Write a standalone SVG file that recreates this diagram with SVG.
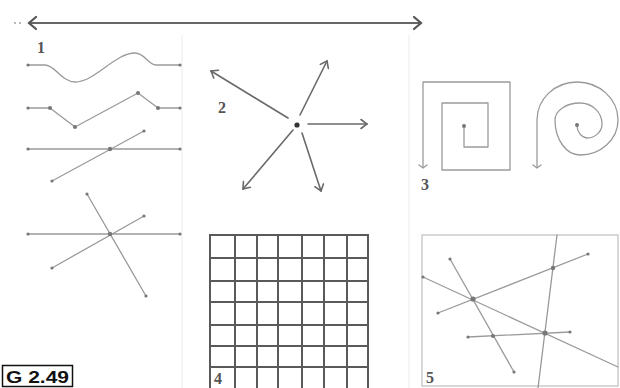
<svg xmlns="http://www.w3.org/2000/svg" width="620" height="388" viewBox="0 0 620 388">
<defs>
<style>
.ln{fill:none;stroke:#9a9a9a;stroke-width:1.3;stroke-linecap:round;stroke-linejoin:round}
.dk{fill:none;stroke:#6a6a6a;stroke-width:1.6;stroke-linecap:round}
.grid{fill:none;stroke:#5a5a5a;stroke-width:2}
.sep{fill:none;stroke:#f2f2f2;stroke-width:1.5}
.dot{fill:#777}
.num{font-family:"Liberation Serif","DejaVu Serif",serif;font-weight:bold;fill:#555;font-size:16px}
</style>
<marker id="ah" viewBox="-8 -6 10 12" markerWidth="10" markerHeight="12" refX="0" refY="0" orient="auto" markerUnits="userSpaceOnUse">
<path d="M-6,-4.5 L0,0 L-6,4.5" fill="none" stroke="#6a6a6a" stroke-width="1.6" stroke-linecap="round"/>
</marker>
<marker id="ahTop" viewBox="-10 -8 12 16" markerWidth="12" markerHeight="16" refX="0" refY="0" orient="auto-start-reverse" markerUnits="userSpaceOnUse">
<path d="M-7,-6 L0,0 L-7,6" fill="none" stroke="#555" stroke-width="2.2" stroke-linecap="round"/>
</marker>
</defs>
<rect width="620" height="388" fill="#fff"/>

<g id="separators">
<line class="sep" x1="182" y1="35" x2="182" y2="388"/>
<line class="sep" x1="409" y1="35" x2="409" y2="388"/>
</g>

<g id="top-arrow">
<circle cx="15" cy="23" r="0.9" fill="#999"/>
<circle cx="20" cy="23" r="0.9" fill="#999"/>
<line x1="29" y1="23" x2="421" y2="23" stroke="#666" stroke-width="2" marker-start="url(#ahTop)" marker-end="url(#ahTop)"/>
</g>

<g id="panel1">
<text class="num" x="37" y="53">1</text>
<path class="ln" d="M28,65 L45,65 C55,65 62,82 75,82 C95,82 115,53 135,53 C145,53 148,65 156,65 L180,65"/>
<path class="ln" d="M28,108 L50,108 L75,127 L138,93 L158,108 L180,108"/>
<line class="ln" x1="28" y1="149" x2="180" y2="149"/>
<line class="ln" x1="52" y1="181" x2="144" y2="131"/>
<line class="ln" x1="28" y1="234" x2="180" y2="234"/>
<line class="ln" x1="87" y1="194" x2="146" y2="296"/>
<line class="ln" x1="52" y1="268" x2="144" y2="216"/>
<g class="dot">
<circle cx="28" cy="65" r="1.6"/><circle cx="180" cy="65" r="1.6"/>
<circle cx="28" cy="108" r="1.6"/><circle cx="50" cy="108" r="2"/><circle cx="75" cy="127" r="2"/><circle cx="138" cy="93" r="2"/><circle cx="158" cy="108" r="2"/><circle cx="180" cy="108" r="1.6"/>
<circle cx="28" cy="149" r="1.6"/><circle cx="180" cy="149" r="1.6"/><circle cx="110" cy="149" r="2.2"/>
<circle cx="52" cy="181" r="1.6"/><circle cx="144" cy="131" r="1.6"/>
<circle cx="28" cy="234" r="1.6"/><circle cx="180" cy="234" r="1.6"/><circle cx="110" cy="234" r="2.2"/>
<circle cx="87" cy="194" r="1.6"/><circle cx="146" cy="296" r="1.6"/>
<circle cx="52" cy="268" r="1.6"/><circle cx="144" cy="216" r="1.6"/>
</g>
</g>

<g id="panel2">
<text class="num" x="218" y="113">2</text>
<circle cx="297" cy="125" r="2.6" fill="#333"/>
<g class="dk">
<line x1="288" y1="118" x2="211" y2="71" marker-end="url(#ah)"/>
<line x1="300" y1="115" x2="327" y2="61" marker-end="url(#ah)"/>
<line x1="308" y1="124" x2="367" y2="124" marker-end="url(#ah)"/>
<line x1="293" y1="130" x2="243" y2="189" marker-end="url(#ah)"/>
<line x1="302" y1="133" x2="321" y2="191" marker-end="url(#ah)"/>
</g>
</g>

<g id="panel3">
<text class="num" x="421" y="190">3</text>
<path class="ln" d="M423,167 L423,82 L510,82 L510,170 L442,170 L442,103 L488,103 L488,147 L464,147 L464,126"/>
<path class="ln" d="M419,165 L423,168 L427,165"/>
<circle cx="464" cy="126" r="2" fill="#777"/>
<path class="ln" d="M537,167 L537,120 A40,38 0 0 1 577,82 A41,38 0 0 1 618,120 A38,35 0 0 1 580,155 A25,35 0 0 1 555,120 A25,17 0 0 1 580,103 A22,21 0 0 1 602,124 A15,14 0 0 1 587,138 A11,13 0 0 1 577,125"/>
<path class="ln" d="M533,165 L537,168 L541,165"/>
<circle cx="577" cy="125" r="2" fill="#777"/>
</g>

<g id="panel4">
<g class="grid">
<line x1="210" y1="235" x2="210" y2="388"/>
<line x1="235" y1="235" x2="235" y2="388"/>
<line x1="257" y1="235" x2="257" y2="388"/>
<line x1="278" y1="235" x2="278" y2="388"/>
<line x1="302" y1="235" x2="302" y2="388"/>
<line x1="324" y1="235" x2="324" y2="388"/>
<line x1="347" y1="235" x2="347" y2="388"/>
<line x1="368" y1="235" x2="368" y2="388"/>
<line x1="209" y1="235" x2="369" y2="235"/>
<line x1="209" y1="258" x2="369" y2="258"/>
<line x1="209" y1="281" x2="369" y2="281"/>
<line x1="209" y1="302" x2="369" y2="302"/>
<line x1="209" y1="325" x2="369" y2="325"/>
<line x1="209" y1="346" x2="369" y2="346"/>
<line x1="209" y1="367" x2="369" y2="367"/>
</g>
<text class="num" x="214" y="384">4</text>
</g>

<g id="panel5">
<rect x="422" y="235" width="196" height="151" fill="none" stroke="#c4c4c4" stroke-width="1.3"/>
<g class="ln">
<line x1="423" y1="277" x2="618" y2="367"/>
<line x1="438" y1="313" x2="588" y2="254"/>
<line x1="450" y1="259" x2="514" y2="372"/>
<line x1="468" y1="337" x2="570" y2="332"/>
<line x1="557" y1="235" x2="538" y2="388"/>
</g>
<g class="dot">
<circle cx="473" cy="299" r="2.6"/><circle cx="553" cy="268" r="2.2"/><circle cx="545" cy="333" r="2.6"/><circle cx="493" cy="336" r="2"/>
<circle cx="438" cy="313" r="1.6"/><circle cx="588" cy="254" r="1.6"/><circle cx="450" cy="259" r="1.6"/><circle cx="514" cy="372" r="1.6"/><circle cx="468" cy="337" r="1.6"/><circle cx="570" cy="332" r="1.6"/><circle cx="423" cy="277" r="1.6"/>
</g>
<text class="num" x="426" y="383">5</text>
</g>

<g id="caption">
<rect x="2.5" y="365.5" width="70" height="21" fill="#fff" stroke="#111" stroke-width="1.5"/>
<text x="6" y="383" font-family="Liberation Sans, Arial, sans-serif" font-weight="bold" font-size="17" fill="#111" textLength="63" lengthAdjust="spacingAndGlyphs">G 2.49</text>
</g>
</svg>
